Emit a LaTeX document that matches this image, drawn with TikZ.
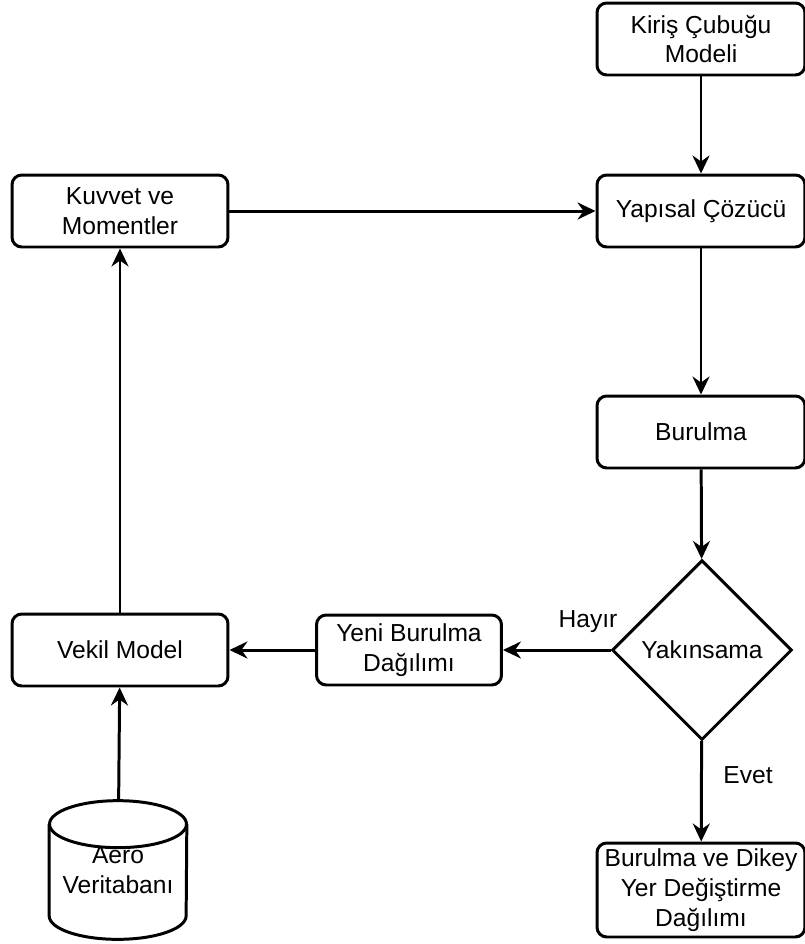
\documentclass[tikz,border=0pt]{standalone}
\usepackage{fontspec}
\setmainfont{Liberation Sans}
\usetikzlibrary{arrows.meta,shapes.geometric}

\begin{document}
\begin{tikzpicture}[x=0.02cm,y=-0.02cm,
  box/.style={draw,line width=1.7pt,rounded corners=5.5pt,align=center,inner sep=1pt,font=\fontsize{14}{17}\selectfont},
  link/.style={line width=1.7pt,-{Stealth[length=0.36cm,width=0.34cm,inset=0.12cm]}},
  lbl/.style={font=\fontsize{14}{17}\selectfont}]
  \useasboundingbox (0,0) rectangle (805,944);

  % Right column
  \node[box,minimum width=4.16cm,minimum height=1.44cm] (kiris) at (701,39) {Kiriş Çubuğu\\Modeli};
  \node[box,minimum width=4.16cm,minimum height=1.44cm] (cozucu) at (701,211) {Yapısal Çözücü};
  \node[box,minimum width=4.16cm,minimum height=1.44cm] (burulma) at (701,432) {Burulma};
  \node[draw,diamond,line width=1.7pt,minimum width=3.6cm,minimum height=3.6cm,inner sep=0pt,lbl] (yakin) at (702,650) {Yakınsama};
  \node[box,minimum width=4.16cm,minimum height=1.88cm] (sonuc) at (701,890) {Burulma ve Dikey\\Yer Değiştirme\\Dağılımı};

  % Middle and left column
  \node[box,minimum width=3.7cm,minimum height=1.4cm] (yeni) at (409,650) {Yeni Burulma\\Dağılımı};
  \node[box,minimum width=4.32cm,minimum height=1.44cm] (vekil) at (120,650) {Vekil Model};
  \node[box,minimum width=4.32cm,minimum height=1.44cm] (kuvvet) at (120,211) {Kuvvet ve\\Momentler};

  % Database cylinder
  \node[minimum width=2.74cm,minimum height=2.76cm,inner sep=0pt,align=center,lbl] (aero) at (118,870) {Aero\\Veritabanı};
  \draw[line width=1.7pt] ([yshift=-0.47cm]aero.north west) -- ([yshift=0.47cm]aero.south west)
    arc[start angle=180,end angle=360,x radius=1.37cm,y radius=0.47cm]
    -- ([yshift=-0.47cm]aero.north east);
  \draw[line width=1.7pt] ([yshift=-0.47cm]aero.north) ellipse[x radius=1.37cm,y radius=0.47cm];

  % Connectors
  \draw[link] (kiris) -- (cozucu);
  \draw[link] (kuvvet) -- (cozucu);
  \draw[link] (cozucu) -- (burulma);
  \draw[link] (burulma) -- (yakin);
  \draw[link] (yakin) -- (yeni);
  \draw[link] (yakin) -- (sonuc);
  \draw[link] (yeni) -- (vekil);
  \draw[link] (aero) -- (vekil);
  \draw[link] (vekil) -- (kuvvet);

  % Decision labels
  \node[lbl] (hayir) at (588,622) {Hayır};
  \node[lbl] (evet) at (748,775) {Evet};
\end{tikzpicture}
\end{document}
